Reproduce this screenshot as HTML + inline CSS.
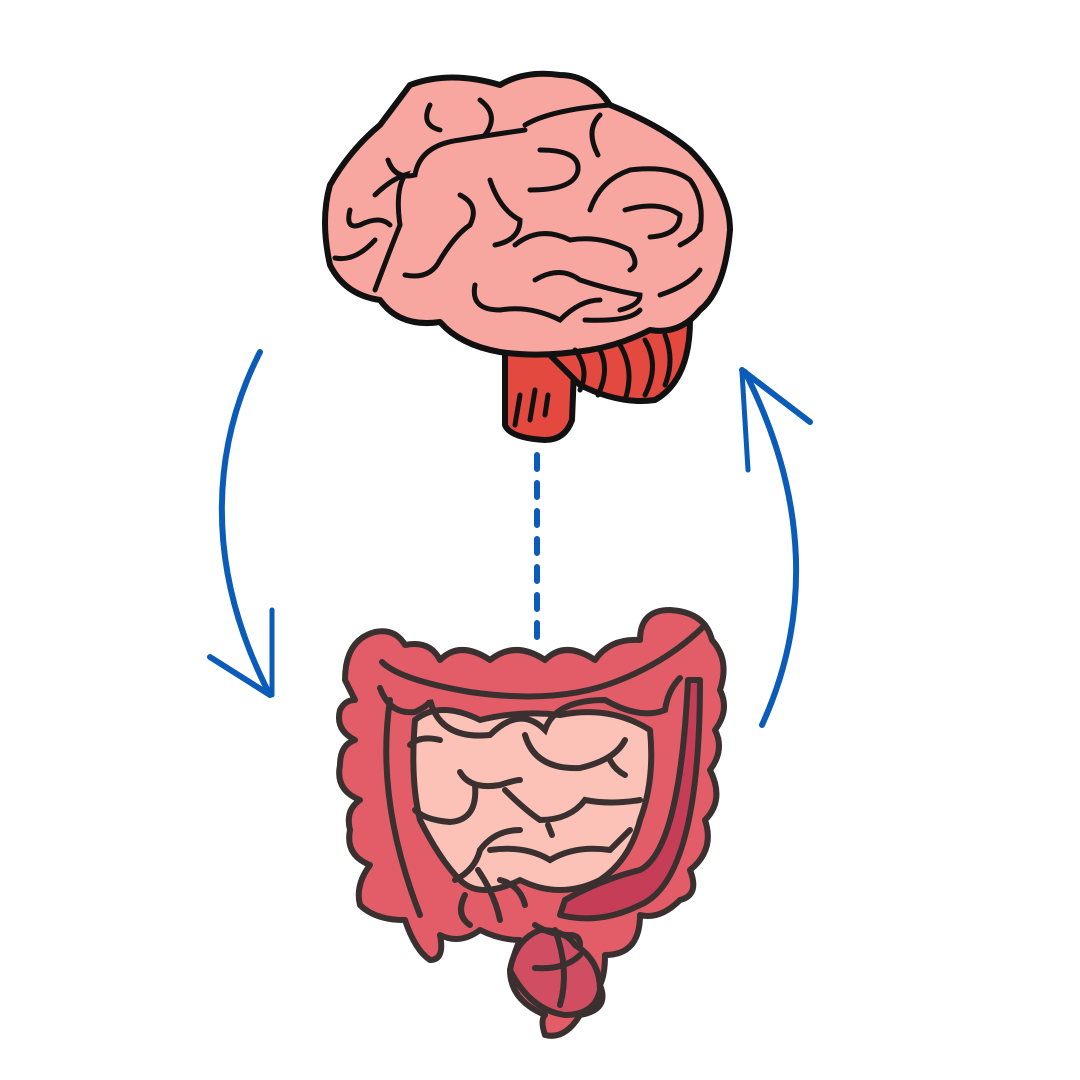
<!DOCTYPE html>
<html><head><style>html,body{margin:0;padding:0;background:#fff;width:1080px;height:1080px;overflow:hidden}</style></head>
<body>
<svg width="1080" height="1080" viewBox="0 0 1080 1080" xmlns="http://www.w3.org/2000/svg">
<!-- arrows -->
<g fill="none" stroke="#0b5cb8" stroke-linecap="round">
<path d="M260 352 C215 440 200 560 270 695" stroke-width="6"/>
<path d="M270 695 L210 657" stroke-width="6"/>
<path d="M272 695 L272 610" stroke-width="5"/>
<path d="M762 725 C810 620 810 500 745 372" stroke-width="6"/>
<path d="M742 370 L810 422" stroke-width="6"/>
<path d="M742 372 L748 470" stroke-width="5"/>
<path d="M537 455 L537 650" stroke-width="6" stroke-dasharray="14 14"/>
</g>
<!-- brainstem/cerebellum -->
<g stroke="#111" stroke-width="6" stroke-linejoin="round">
<path d="M505 345 L575 345 L572 420 Q565 440 545 440 Q510 438 505 425 Z" fill="#e4493f"/>
<path d="M540 345 L690 320 Q690 380 655 400 Q620 405 580 385 Z" fill="#e4493f"/>
<path d="M380 125 L410 85 Q450 70 500 85 Q525 70 560 75 Q590 75 610 105 Q660 125 690 150 Q730 190 730 230 Q725 290 700 310 Q680 335 650 330 Q620 345 590 350 Q540 358 500 352 Q460 345 440 322 Q400 328 380 300 Q345 295 330 265 Q320 220 330 185 Q350 150 380 125 Z" fill="#f8a6a0"/>
</g>
<g fill="none" stroke="#111" stroke-width="5" stroke-linecap="round">
<path d="M388 160 Q395 180 415 175 Q420 145 460 140 Q490 135 525 130"/>
<path d="M430 105 Q420 125 440 130"/>
<path d="M480 100 Q500 115 485 135"/>
<path d="M525 125 Q550 110 610 105"/>
<path d="M600 115 Q585 130 598 155"/>
<path d="M540 150 Q580 150 578 170 Q575 190 530 190"/>
<path d="M460 195 Q480 205 470 225 Q455 235 440 260 Q430 280 405 275"/>
<path d="M490 180 Q500 210 520 220 Q520 240 495 245"/>
<path d="M515 245 Q540 225 570 240 Q600 235 630 250 Q640 265 630 270"/>
<path d="M350 210 Q345 230 360 225 Q380 215 390 225"/>
<path d="M335 258 Q355 262 375 240"/>
<path d="M590 210 Q600 180 630 170 Q670 165 690 180 Q705 200 700 230"/>
<path d="M625 210 Q660 200 680 215 Q680 235 650 237"/>
<path d="M535 280 Q560 265 580 280 Q610 290 640 295 Q640 305 620 310"/>
<path d="M475 285 Q470 310 500 310 Q530 305 560 320 Q580 300 600 300"/>
<path d="M585 320 Q630 322 640 310"/>
<path d="M660 295 Q690 285 700 270"/>
<path d="M680 245 Q700 235 700 225"/>
<path d="M375 195 Q390 180 405 175 Q395 190 400 225 Q390 250 375 290"/>
<path d="M520 395 L515 425 M535 390 L530 420 M548 395 L545 415"/>
<path d="M575 350 Q590 370 580 390 M600 350 Q610 370 598 395 M620 345 Q635 370 625 400 M645 340 Q660 365 645 395 M665 335 Q675 360 665 385"/>
</g>
<!-- intestine -->
<g stroke="#3a3030" stroke-width="6" stroke-linejoin="round">
<path d="M345 680 Q345 640 375 632 Q395 628 405 645 Q430 640 440 660 Q460 640 490 660 Q515 640 545 660 Q565 640 595 660 Q610 638 640 640 Q640 610 670 610 Q705 612 712 640 Q730 660 720 690 Q730 710 715 730 Q725 750 710 770 Q725 800 705 820 Q715 850 690 870 Q700 895 680 900 Q660 920 640 915 Q640 955 605 955 Q605 975 600 985 Q610 1010 580 1015 Q565 1040 545 1035 Q540 1020 545 1015 Q510 1000 510 970 Q515 950 520 940 Q500 940 480 930 Q460 945 440 935 Q445 960 430 960 Q415 950 405 920 Q375 920 360 905 Q355 885 370 865 Q345 855 350 830 Q345 810 360 800 Q335 790 340 765 Q340 745 355 740 Q335 730 340 710 Q345 700 355 700 Z" fill="#e25d68"/>
<path d="M415 720 Q440 700 480 720 Q520 710 560 715 Q610 705 650 730 Q655 780 640 820 Q630 860 600 880 Q560 900 520 880 Q480 900 460 880 Q440 860 420 820 Q410 780 415 720 Z" fill="#fcc2b8"/>
<path d="M565 900 Q600 880 640 870 Q680 850 688 680 L700 680 Q700 880 640 905 Q600 925 560 915 Z" fill="#c63d57"/>
<path d="M510 970 Q515 940 540 930 Q565 930 575 945 Q600 960 600 990 Q595 1015 565 1015 Q530 1010 510 970 Z" fill="#d04d62"/>
</g>
<g fill="none" stroke="#3a3030" stroke-width="6" stroke-linecap="round">
<path d="M382 662 Q400 680 470 692 Q560 705 620 680 Q670 660 705 625"/>
<path d="M380 688 Q390 715 415 712 Q430 705 430 700 Q440 740 490 735 Q520 705 545 730 Q555 700 605 700 Q640 720 665 710 Q668 690 680 678"/>
<path d="M390 700 Q375 800 420 915"/>
<path d="M525 735 Q535 770 580 768 Q615 760 625 740"/>
<path d="M460 772 Q470 790 500 785 Q515 780 520 780"/>
<path d="M475 785 Q478 820 450 822 Q425 820 415 810"/>
<path d="M505 790 Q525 810 540 820 Q570 820 585 800 Q610 805 640 800"/>
<path d="M410 745 Q420 735 440 740"/>
<path d="M480 850 Q495 830 520 830"/>
<path d="M480 850 Q475 870 455 880"/>
<path d="M490 850 Q525 845 550 860 Q575 845 610 850 Q620 840 630 830"/>
<path d="M478 870 Q495 895 500 920"/>
<path d="M500 880 Q520 885 525 905"/>
<path d="M465 895 Q455 915 470 925"/>
<path d="M535 925 Q550 935 570 935 Q580 935 580 945"/>
<path d="M555 930 Q570 970 560 1005"/>
<path d="M535 968 Q565 970 580 955"/>
<path d="M610 760 Q615 770 625 775"/>
<path d="M548 825 L552 835"/>
</g>
</svg>
</body></html>
